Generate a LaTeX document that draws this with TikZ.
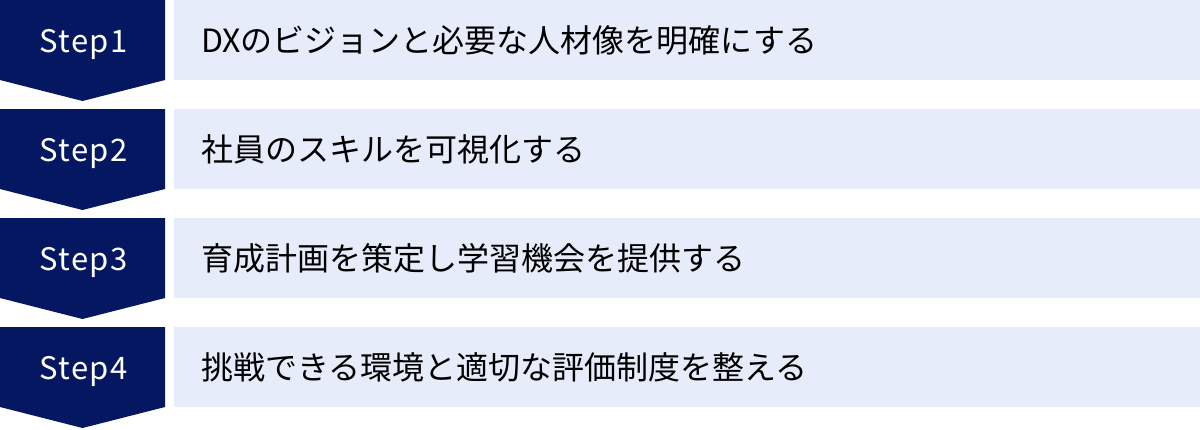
\documentclass[tikz,border=0pt]{standalone}
\usepackage{fontspec}
\setmainfont{Noto Sans CJK JP}
\newfontfamily\stepfont[LetterSpace=5]{Noto Sans CJK JP}
\definecolor{navy}{RGB}{4,23,96}
\definecolor{lightbg}{RGB}{230,236,249}
\begin{document}
\begin{tikzpicture}[x=1pt,y=-1pt,
  chev/.style={fill=navy,draw=none},
  bar/.style={fill=lightbg,draw=none},
  steplabel/.style={text=white,font=\stepfont\fontsize{31}{34}\selectfont,anchor=base,inner sep=0pt},
  desc/.style={text=black,font=\fontsize{32}{36}\selectfont,anchor=base west,inner sep=0pt}]
\useasboundingbox (0,0) rectangle (1200,429);
\foreach \i/\txt in {0/{DXのビジョンと必要な人材像を明確にする},1/{社員のスキルを可視化する},2/{育成計画を策定し学習機会を提供する},3/{挑戦できる環境と適切な評価制度を整える}}{
  \pgfmathsetmacro{\y}{109*\i}
  \pgfmathtruncatemacro{\n}{\i+1}
  \fill[chev] (0,\y) -- (165,\y) -- (165,\y+80) -- (82.5,\y+101) -- (0,\y+80) -- cycle;
  \fill[bar] (174,\y) rectangle (1200,\y+80);
  \node[steplabel] (s\n) at (83.5,\y+52) {Step\n};
  \node[desc] (d\n) at (201,\y+52.5) {\txt};
}
\end{tikzpicture}
\end{document}
